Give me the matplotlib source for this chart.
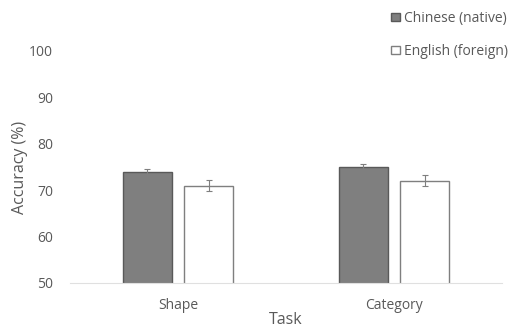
import matplotlib.pyplot as plt
from matplotlib.patches import Patch
import numpy as np

plt.rcParams['font.family'] = ['Open Sans', 'DejaVu Sans']

tasks = ['Shape', 'Category']
native = [74, 75]
native_err = [0.6, 0.7]
foreign = [71, 72]
foreign_err = [1.2, 1.2]

x = np.arange(len(tasks))
w = 0.228
off = 0.142
txt = '#595959'

fig = plt.figure(figsize=(5.14, 3.29), dpi=100)
ax = fig.add_axes([0.136, 0.14, 0.841, 0.705])

ax.bar(x - off, native, w, color='#7f7f7f', edgecolor='#595959', linewidth=1,
       yerr=native_err, error_kw=dict(ecolor='#7f7f7f', elinewidth=0.8, capsize=2, capthick=0.8))
ax.bar(x + off, foreign, w, color='white', edgecolor='#7f7f7f', linewidth=1,
       yerr=foreign_err, error_kw=dict(ecolor='#7f7f7f', elinewidth=0.8, capsize=2, capthick=0.8))

ax.set_xlim(-0.5, 1.5)
ax.set_ylim(50, 100)
ax.set_yticks(range(50, 101, 10))
ax.set_xticks(x)
ax.set_xticklabels(tasks)
for s in ['top', 'right', 'left']:
    ax.spines[s].set_visible(False)
ax.spines['bottom'].set_color('#e0e0e0')
ax.tick_params(length=0, colors=txt, labelsize=10)
ax.tick_params(axis='x', pad=11)
ax.tick_params(axis='y', pad=12)
ax.set_ylabel('Accuracy (%)', color=txt, fontsize=11.5, labelpad=1)
ax.set_xlabel('Task', color=txt, fontsize=11.5, labelpad=-1)

handles = [Patch(facecolor='#7f7f7f', edgecolor='#595959', label='Chinese (native)'),
           Patch(facecolor='white', edgecolor='#7f7f7f', label='English (foreign)')]
leg = fig.legend(handles=handles, loc='upper right', bbox_to_anchor=(1.012, 1.005), frameon=False,
                 fontsize=10, handlelength=0.6, handleheight=0.6, handletextpad=0.3, labelspacing=1.3)
for t in leg.get_texts():
    t.set_color(txt)

fig.savefig('out.png', dpi=100)
